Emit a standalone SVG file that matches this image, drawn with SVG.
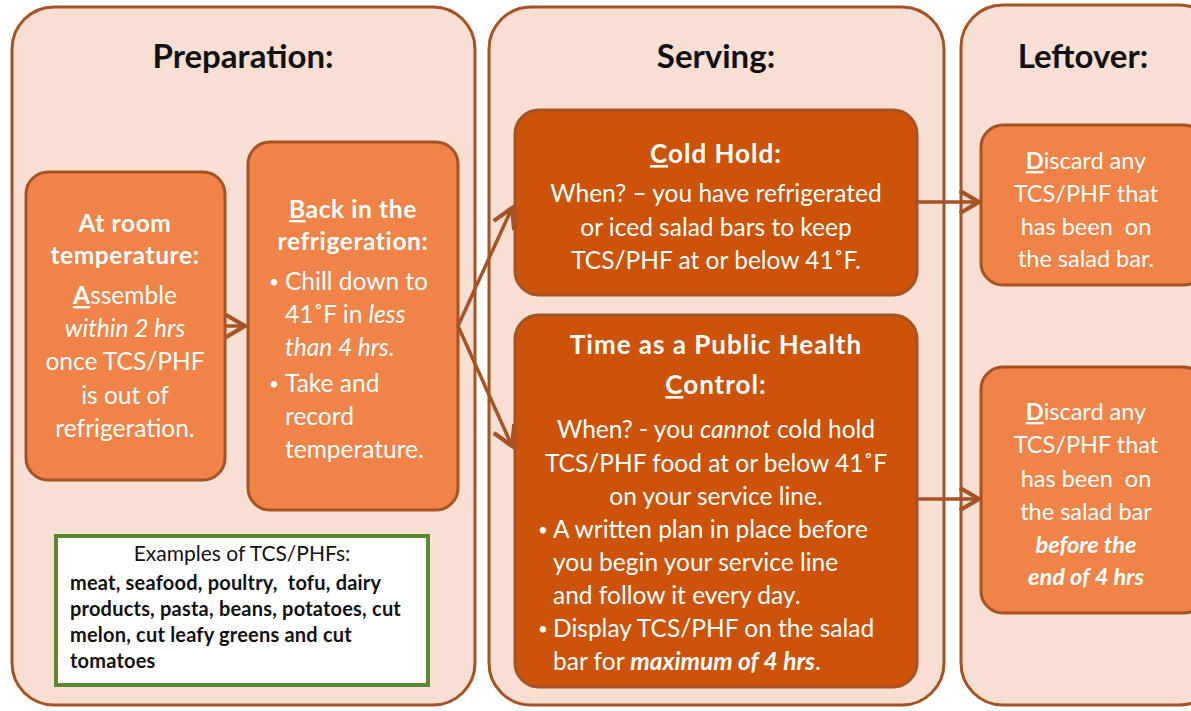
<svg xmlns="http://www.w3.org/2000/svg" width="1191" height="711" viewBox="0 0 1191 711">
<style>
.panel{fill:#F7DFD3;stroke:#A65223;stroke-width:3}
.lt{fill:#F08347;stroke:#A65223;stroke-width:3}
.dk{fill:#CC5309;stroke:#A65223;stroke-width:3}
.ttl{font-family:Lato,"Open Sans",sans-serif;font-weight:bold;font-size:33px;fill:#111;text-anchor:middle}
.w{font-family:Lato,"Open Sans",sans-serif;font-size:24.5px;fill:#fff}
.lo{font-size:23.5px}
.c{text-anchor:middle}
.b{font-weight:bold}
.hb{font-weight:bold;letter-spacing:0.6px}
.hd{font-weight:bold;font-size:26px;letter-spacing:1px}
.i{font-style:italic}
.bu{font-size:17px}
.ex{font-family:Lato,"Open Sans",sans-serif;font-size:21px;fill:#111}
.exb{font-family:Lato,"Open Sans",sans-serif;font-size:20px;font-weight:bold;letter-spacing:0.2px;fill:#111}
.con{stroke:#A65223;stroke-width:3.5;fill:none}
</style>
<defs>
<marker id="ah" markerWidth="8" markerHeight="8" refX="6" refY="4" orient="auto" markerUnits="strokeWidth">
<path d="M0.5,0.8 L6,4 L0.5,7.2" fill="none" stroke="#A65223" stroke-width="1.2"/>
</marker>
</defs>
<g id="panel-preparation">
<rect class="panel" x="12" y="7" width="463" height="698" rx="42"/>
<text class="ttl" x="243" y="68">Preparation:</text>
</g>
<g id="panel-serving">
<rect class="panel" x="489" y="7" width="455" height="698" rx="42"/>
<text class="ttl" x="716" y="68">Serving:</text>
</g>
<g id="panel-leftover">
<rect class="panel" x="961" y="5" width="260" height="700" rx="42"/>
<text class="ttl" x="1083" y="68">Leftover:</text>
</g>
<g id="node-a">
<rect class="lt" x="26" y="172" width="199" height="308" rx="22"/>
<text class="w c" x="125"><tspan class="hb" x="125" y="232">At room</tspan><tspan class="hb" x="125" y="264">temperature:</tspan><tspan x="125" y="304"><tspan class="b" text-decoration="underline">A</tspan>ssemble</tspan><tspan class="i" x="125" y="337">within 2 hrs</tspan><tspan x="125" y="370">once TCS/PHF</tspan><tspan x="125" y="404">is out of</tspan><tspan x="125" y="437">refrigeration.</tspan></text>
</g>
<g id="node-b">
<rect class="lt" x="248" y="142" width="210" height="368" rx="22"/>
<text class="w"><tspan class="hb" x="353" y="218" text-anchor="middle"><tspan text-decoration="underline">B</tspan>ack in the</tspan><tspan class="hb" x="353" y="250" text-anchor="middle">refrigeration:</tspan><tspan class="bu" x="269" y="288">•</tspan><tspan x="285" y="290">Chill down to</tspan><tspan x="285" y="323">41˚F in <tspan class="i">less</tspan></tspan><tspan class="i" x="285" y="356">than 4 hrs.</tspan><tspan class="bu" x="269" y="390">•</tspan><tspan x="285" y="392">Take and</tspan><tspan x="285" y="425">record</tspan><tspan x="285" y="458">temperature.</tspan></text>
</g>
<g id="node-examples">
<rect x="56" y="536" width="372" height="149" fill="#fff" stroke="#5A8A2E" stroke-width="4"/>
<text class="ex" text-anchor="middle" x="242" y="561">Examples of TCS/PHFs:</text>
<text class="exb" xml:space="preserve"><tspan x="70" y="590">meat, seafood, poultry,  tofu, dairy</tspan><tspan x="70" y="616">products, pasta, beans, potatoes, cut</tspan><tspan x="70" y="642">melon, cut leafy greens and cut</tspan><tspan x="70" y="668">tomatoes</tspan></text>
</g>
<g id="node-cold-hold">
<rect class="dk" x="515" y="110" width="402" height="185" rx="24"/>
<text class="w c"><tspan class="hd" x="716" y="163"><tspan text-decoration="underline">C</tspan>old Hold:</tspan><tspan x="716" y="202">When? – you have refrigerated</tspan><tspan x="716" y="236">or iced salad bars to keep</tspan><tspan x="716" y="269">TCS/PHF at or below 41˚F.</tspan></text>
</g>
<g id="node-tphc">
<rect class="dk" x="515" y="315" width="402" height="372" rx="24"/>
<text class="w"><tspan class="hd" x="716" y="354" text-anchor="middle">Time as a Public Health</tspan><tspan class="hd" x="716" y="394" text-anchor="middle"><tspan text-decoration="underline">C</tspan>ontrol:</tspan><tspan x="716" y="438" text-anchor="middle">When? - you <tspan class="i">cannot</tspan> cold hold</tspan><tspan x="716" y="472" text-anchor="middle">TCS/PHF food at or below 41˚F</tspan><tspan x="716" y="505" text-anchor="middle">on your service line.</tspan><tspan class="bu" x="538" y="536">•</tspan><tspan x="553" y="538">A written plan in place before</tspan><tspan x="553" y="571">you begin your service line</tspan><tspan x="553" y="604">and follow it every day.</tspan><tspan class="bu" x="538" y="635">•</tspan><tspan x="553" y="637">Display TCS/PHF on the salad</tspan><tspan x="553" y="670">bar for <tspan class="b i">maximum of 4 hrs</tspan>.</tspan></text>
</g>
<g id="node-d1">
<rect class="lt" x="981" y="125" width="224" height="160" rx="22"/>
<text class="w lo c" xml:space="preserve"><tspan x="1086" y="169"><tspan class="b" text-decoration="underline">D</tspan>iscard any</tspan><tspan x="1086" y="202">TCS/PHF that</tspan><tspan x="1086" y="235">has been  on</tspan><tspan x="1086" y="267">the salad bar.</tspan></text>
</g>
<g id="node-d2">
<rect class="lt" x="981" y="367" width="224" height="246" rx="22"/>
<text class="w lo c" xml:space="preserve"><tspan x="1086" y="420"><tspan class="b" text-decoration="underline">D</tspan>iscard any</tspan><tspan x="1086" y="453">TCS/PHF that</tspan><tspan x="1086" y="487">has been  on</tspan><tspan x="1086" y="520">the salad bar</tspan><tspan class="b i" x="1086" y="553">before the</tspan><tspan class="b i" x="1086" y="585">end of 4 hrs</tspan></text>
</g>
<g id="connectors">
<line class="con" x1="226" y1="326" x2="245" y2="326" marker-end="url(#ah)"/>
<line class="con" x1="458" y1="326" x2="512" y2="208" marker-end="url(#ah)"/>
<line class="con" x1="458" y1="326" x2="512" y2="446" marker-end="url(#ah)"/>
<line class="con" x1="917" y1="202" x2="979" y2="202" marker-end="url(#ah)"/>
<line class="con" x1="917" y1="499" x2="979" y2="499" marker-end="url(#ah)"/>
</g>
</svg>
